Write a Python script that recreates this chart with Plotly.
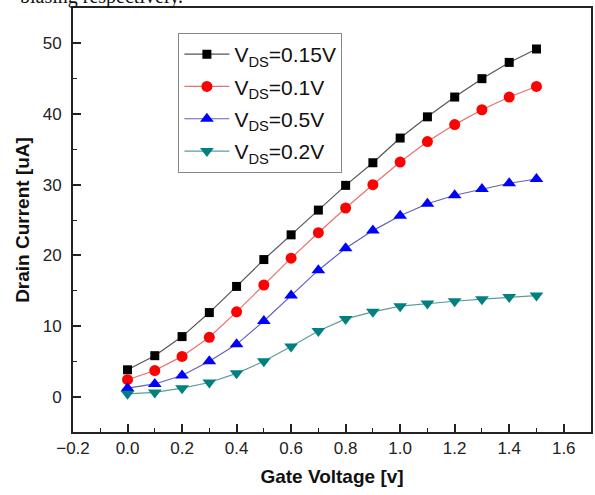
import plotly.graph_objects as go

gate_voltage = [0.0, 0.1, 0.2, 0.3, 0.4, 0.5, 0.6, 0.7, 0.8, 0.9, 1.0, 1.1, 1.2, 1.3, 1.4, 1.5]
vds_015 = [3.8, 5.8, 8.5, 11.9, 15.6, 19.4, 22.9, 26.4, 29.9, 33.1, 36.6, 39.6, 42.4, 45.0, 47.3, 49.2]
vds_01 = [2.4, 3.7, 5.7, 8.4, 12.0, 15.8, 19.6, 23.2, 26.7, 30.0, 33.2, 36.1, 38.5, 40.6, 42.4, 43.9]
vds_05 = [1.2, 1.8, 3.0, 5.0, 7.4, 10.7, 14.3, 17.9, 21.0, 23.5, 25.6, 27.3, 28.5, 29.4, 30.2, 30.8]
vds_02 = [0.4, 0.6, 1.2, 2.0, 3.3, 5.0, 7.1, 9.3, 11.0, 12.0, 12.8, 13.2, 13.5, 13.8, 14.1, 14.3]

series_names = ["V<sub>DS</sub>=0.15V", "V<sub>DS</sub>=0.1V", "V<sub>DS</sub>=0.5V", "V<sub>DS</sub>=0.2V"]
series_values = [vds_015, vds_01, vds_05, vds_02]
marker_colors = ["#000000", "#ff0000", "#0000ff", "#008080"]
line_colors = ["#555555", "#e87070", "#6060c0", "#5a9e9a"]
symbols = ["square", "circle", "triangle-up", "triangle-down"]
sizes = [9, 11, 12, 12]

FONT = "Arial, Liberation Sans, sans-serif"

fig = go.Figure()
for i, (name, vals, mc, lc, sym, sz) in enumerate(zip(series_names, series_values, marker_colors, line_colors, symbols, sizes)):
    fig.add_trace(go.Scatter(
        x=gate_voltage, y=vals, name=name, mode="lines+markers",
        legendgroup="g%d" % i,
        line=dict(color=lc, width=1.2),
        marker=dict(symbol=sym, size=sz, color=mc, line=dict(width=0)),
    ))

axis_common = dict(
    showline=True, linecolor="#222222", linewidth=1.8, mirror=True,
    ticks="inside", tickcolor="#222222", tickwidth=1.5, ticklen=8,
    showgrid=False, zeroline=False,
    tickfont=dict(family=FONT, size=17, color="#222222"),
)

fig.update_xaxes(
    range=[-0.2, 1.7], tick0=-0.2, dtick=0.2, tickformat=".1f",
    minor=dict(ticks="inside", ticklen=4, dtick=0.1, tickcolor="#222222", tickwidth=1.2),
    title=dict(text="<b>Gate Voltage [v]</b>", font=dict(family=FONT, size=19, color="#111111"), standoff=12),
    ticklabelstandoff=0,
    **axis_common,
)
fig.update_yaxes(
    range=[-5, 55], tick0=0, dtick=10,
    minor=dict(ticks="inside", ticklen=4, dtick=5, tickcolor="#222222", tickwidth=1.2),
    title=dict(text="<b>Drain Current [uA]</b>", font=dict(family=FONT, size=19, color="#111111"), standoff=8),
    ticklabelstandoff=6,
    **axis_common,
)

fig.add_annotation(
    text="biasing respectively.", xref="paper", yref="paper",
    x=(185 - 72.5) / 518.5, y=1 - 2 / 424, xanchor="right", yanchor="bottom",
    showarrow=False, font=dict(family="Liberation Serif, Times New Roman, serif", size=20, color="#111111"),
)

fig.update_layout(
    width=595, height=495,
    margin=dict(l=72.5, r=4, t=8, b=63, autoexpand=False),
    paper_bgcolor="white", plot_bgcolor="white",
    showlegend=True,
    legend=dict(
        x=(178 - 72.5) / 518.5, y=(432 - 33) / 424, xanchor="left", yanchor="top",
        bordercolor="#888888", borderwidth=1, bgcolor="white",
        font=dict(family=FONT, size=21, color="#111111"),
        tracegroupgap=2, itemwidth=45,
    ),
)

fig.write_html("out.html", config={"displayModeBar": False},
               post_script="document.body.style.margin='0';")
